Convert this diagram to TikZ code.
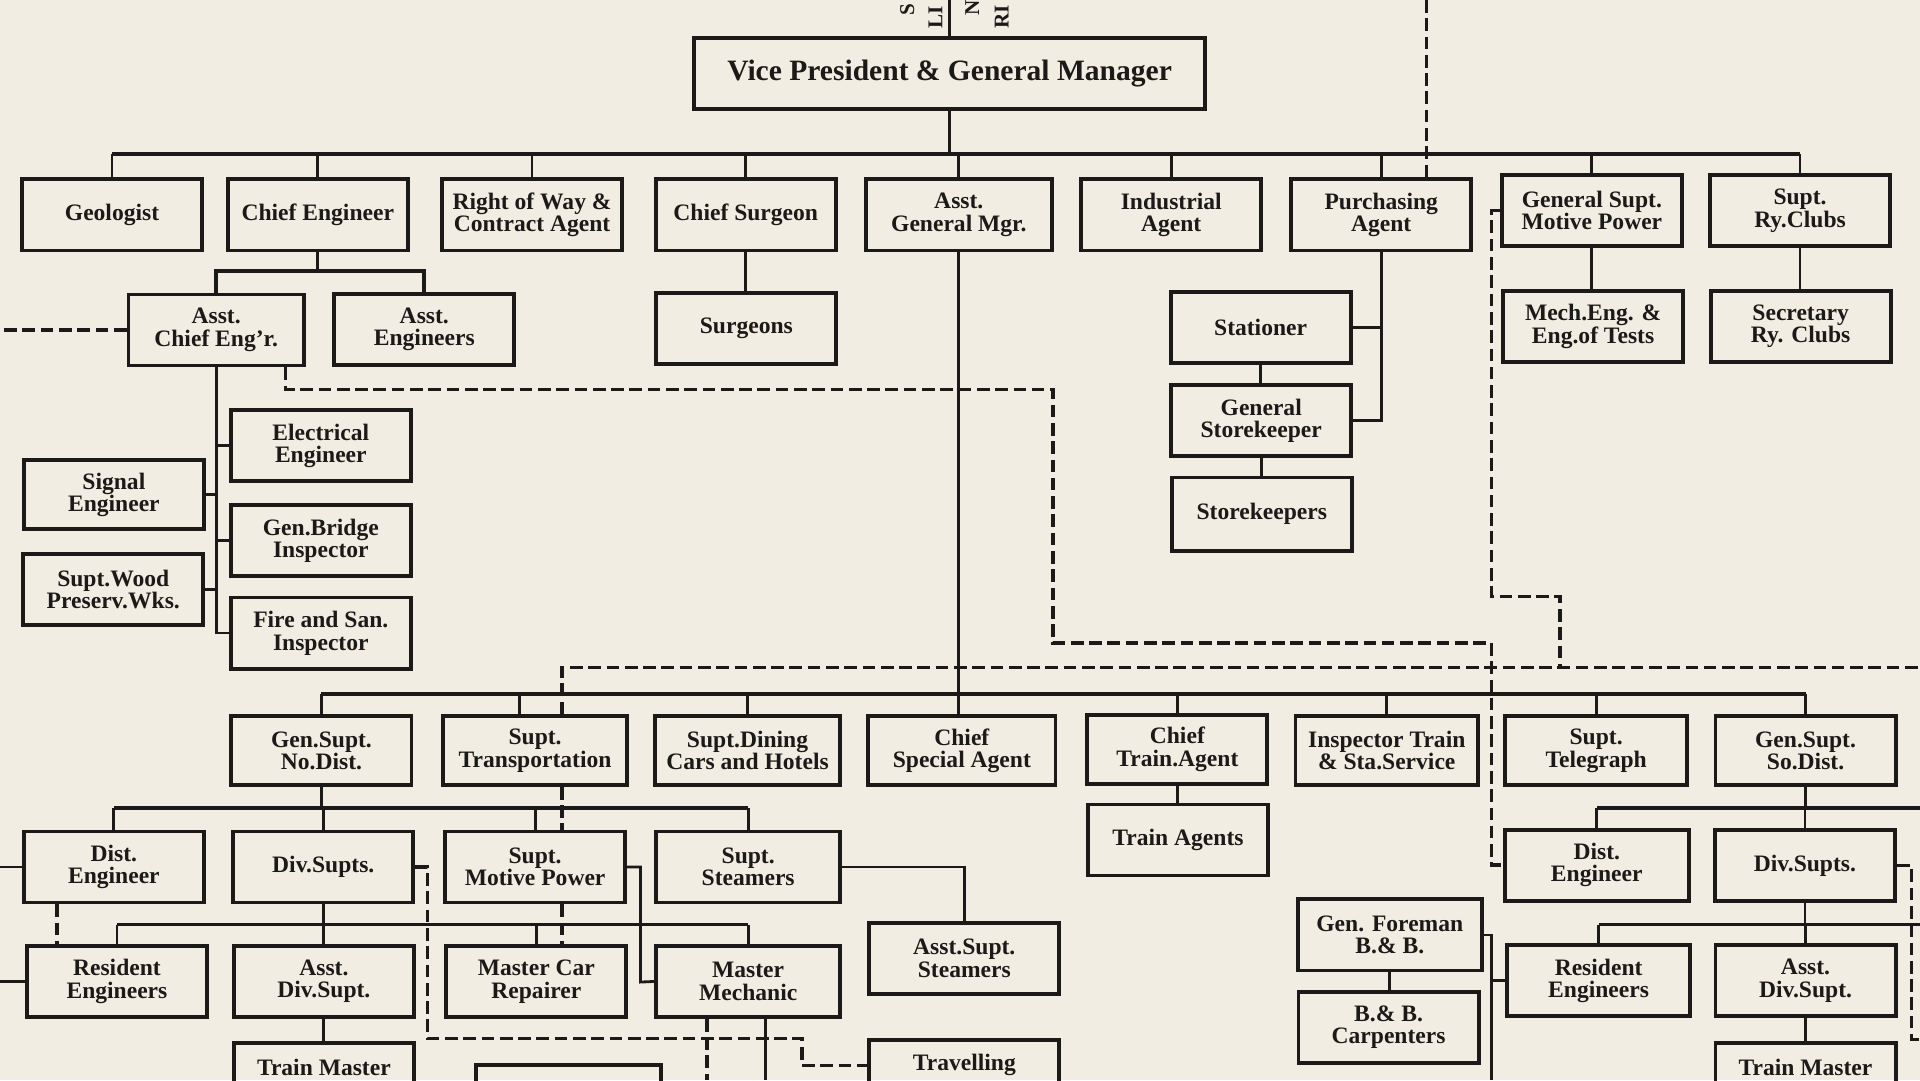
\documentclass[tikz,border=0pt]{standalone}
\usepackage{fontspec}
\setmainfont{Liberation Serif}
\definecolor{paper}{RGB}{241,237,226}
\definecolor{ink}{RGB}{28,26,24}

\begin{document}
\begin{tikzpicture}[x=0.012245cm, y=-0.012245cm, ink,
  post/.style={draw, line width=1.1pt, align=center, inner sep=1pt, minimum width=1.8cm, minimum height=0.71cm, font=\fontsize{6.7}{6.4}\selectfont\bfseries},
  low/.style={post, minimum height=0.686cm},
  cutpost/.style={post, anchor=north, minimum height=0.5cm},
  link/.style={line width=0.8pt},
  bus/.style={line width=1.1pt},
  dashlink/.style={line width=1pt, dash pattern=on 3.6pt off 1.6pt},
  frag/.style={font=\fontsize{6}{6}\selectfont\bfseries, inner sep=0pt, rotate=90, anchor=west}]
\clip (0,0) rectangle (1568,882);
\fill[paper] (0,0) rectangle (1568,882);
\coordinate (top) at (0,0);
\coordinate (left) at (0,0);
\coordinate (bottom) at (0,882);

\node[frag] (fragS) at (741,13) {S};
\node[frag] (fragLI) at (764,24) {LI};
\node[frag] (fragN) at (794,13) {N};
\node[frag] (fragRI) at (818,24) {RI};

\node[post, minimum width=5.106cm, font=\fontsize{8.4}{9}\selectfont\bfseries] (vp) at (775.5,60) {Vice President \& General Manager};

\node[post] (geol) at (91.5,175.5) {Geologist};
\node[post] (chiefeng) at (259.5,175.5) {Chief Engineer};
\node[post] (rightway) at (434.5,175.5) {Right of Way \&\\Contract Agent};
\node[post] (chiefsurg) at (609,175.5) {Chief Surgeon};
\node[post, minimum width=1.86cm] (asstgm) at (783,175.5) {Asst.\\General Mgr.};
\node[post] (indag) at (956.5,175.5) {Industrial\\Agent};
\node[post] (purch) at (1128,175.5) {Purchasing\\Agent};
\node[post] (gsmp) at (1300,172) {General Supt.\\Motive Power};
\node[post] (suptclubs) at (1470,172) {Supt.\\Ry.Clubs};

\node[post, minimum width=1.751cm] (acheng) at (176.5,269.5) {Asst.\\Chief Eng'r.};
\node[post] (assteng) at (346.5,269) {Asst.\\Engineers};
\node[post] (surgeons) at (609.5,268.5) {Surgeons};
\node[post] (stationer) at (1029.5,267.5) {Stationer};
\node[post] (genstore) at (1030,343.5) {General\\Storekeeper};
\node[post, minimum height=0.735cm] (storekeepers) at (1030.5,420) {Storekeepers};
\node[post] (mecheng) at (1301,266.5) {Mech.Eng. \&\\Eng.of Tests};
\node[post] (secretary) at (1470.5,266.5) {Secretary\\Ry. Clubs};

\node[post] (eleceng) at (262,364) {Electrical\\Engineer};
\node[low] (signal) at (93,404) {Signal\\Engineer};
\node[post] (bridge) at (262,441.5) {Gen.Bridge\\Inspector};
\node[post] (wood) at (92.5,481.5) {Supt.Wood\\Preserv.Wks.};
\node[post] (fire) at (262,517) {Fire and San.\\Inspector};

\node[low] (gsnd) at (262.5,613) {Gen.Supt.\\No.Dist.};
\node[low, minimum width=1.837cm] (supttrans) at (437,613) {Supt.\\Transportation};
\node[low, minimum width=1.85cm] (suptdining) at (610.5,613) {Supt.Dining\\Cars and Hotels};
\node[low, minimum width=1.873cm] (chiefspec) at (785.5,613) {Chief\\Special Agent};
\node[low] (chieftrain) at (961.5,612) {Chief\\Train.Agent};
\node[low, minimum width=1.824cm] (insptrain) at (1132.5,613) {Inspector Train\\\& Sta.Service};
\node[low, minimum width=1.824cm] (supttel) at (1303.5,613) {Supt.\\Telegraph};
\node[low] (gssd) at (1474.5,613) {Gen.Supt.\\So.Dist.};
\node[post] (trainagents) at (962,686) {Train Agents};

\node[post] (distengL) at (93,708) {Dist.\\Engineer};
\node[post] (divsuptsL) at (264,708) {Div.Supts.};
\node[post] (suptmp) at (437,708) {Supt.\\Motive Power};
\node[post, minimum width=1.837cm] (suptsteam) at (611,708) {Supt.\\Steamers};
\node[post, minimum width=1.837cm] (distengR) at (1304,706.5) {Dist.\\Engineer};
\node[post] (divsuptsR) at (1474,707) {Div.Supts.};

\node[post] (resengL) at (95.5,801.5) {Resident\\Engineers};
\node[post] (asstdivL) at (264.5,801.5) {Asst.\\Div.Supt.};
\node[post] (mcr) at (438,801.5) {Master Car\\Repairer};
\node[post, minimum width=1.837cm] (mmech) at (611,801.5) {Master\\Mechanic};
\node[post, minimum width=1.898cm] (asststeam) at (787.5,782.5) {Asst.Supt.\\Steamers};
\node[post, minimum width=1.837cm] (genforeman) at (1135,763.5) {Gen. Foreman\\B.\& B.};
\node[post] (carpenters) at (1134,839) {B.\& B.\\Carpenters};
\node[post, minimum width=1.824cm] (resengR) at (1305.5,801) {Resident\\Engineers};
\node[post] (asstdivR) at (1474.5,801) {Asst.\\Div.Supt.};

\node[cutpost] (trainmL) at (264.5,850) {Train Master};
\node[cutpost, minimum width=1.85cm] (blankbox) at (464.5,868) {};
\node[cutpost, minimum width=1.898cm] (travelling) at (787.5,848) {Travelling};
\node[cutpost] (trainmR) at (1474.5,850) {Train Master};

\coordinate (bus1) at (0,126);
\coordinate (bus2) at (0,221);
\coordinate (bus3) at (0,567);
\coordinate (bus4) at (0,660);
\coordinate (bus5) at (0,755);
\coordinate (redge4) at (1568,660);
\coordinate (redge5) at (1568,755);

\draw[link] (vp.north) -- (vp.north |- top);
\draw[link] (vp.south) -- (vp.south |- bus1);
\draw[bus] (geol.north |- bus1) -- (suptclubs.north |- bus1);
\foreach \n in {geol,chiefeng,rightway,chiefsurg,asstgm,indag,purch,gsmp,suptclubs}
  \draw[link] (\n.north) -- (\n.north |- bus1);

\draw[link] (chiefeng.south) -- (chiefeng.south |- bus2);
\draw[bus] (acheng.north) |- (assteng.north |- bus2) -- (assteng.north);
\draw[link] (acheng.south) -- (acheng.south |- fire.west) -- (fire.west);
\foreach \n in {eleceng,bridge}
  \draw[link] (\n.west) -- (\n.west -| acheng.south);
\foreach \n in {signal,wood}
  \draw[link] (\n.east) -- (\n.east -| acheng.south);
\draw[link] (chiefsurg.south) -- (chiefsurg.south |- surgeons.north);

\draw[link] (purch.south) |- (genstore.east);
\draw[link] (stationer.east) -- (stationer.east -| purch.south);
\draw[link] (stationer.south) -- (stationer.south |- genstore.north);
\draw[link] (genstore.south) -- (genstore.south |- storekeepers.north);
\draw[link] (gsmp.south) -- (gsmp.south |- mecheng.north);
\draw[link] (suptclubs.south) -- (suptclubs.south |- secretary.north);

\coordinate (dtop) at (1165,0);
\draw[dashlink] (dtop) -- (dtop |- purch.north);
\draw[dashlink] (acheng.west) -- (acheng.west -| left);
\coordinate (d2s) at ([xshift=-0.2cm]acheng.south east);
\coordinate (d2a) at (860,318);
\coordinate (d2b) at (1218,525);
\draw[dashlink] (d2s) |- (d2a) |- (d2b) |- (distengR.west);
\coordinate (d3a) at (1218,487);
\coordinate (d3b) at (1274,545);
\coordinate (dashrun) at (1568,545);
\draw[dashlink] (gsmp.west) -| (d3a) -| (d3b);
\coordinate (trd) at ([xshift=0.27cm]supttrans.north);
\draw[dashlink] (trd) |- (dashrun);
\coordinate (trd2) at ([xshift=0.27cm]supttrans.south);
\draw[dashlink] (trd2) -- (trd2 |- suptmp.north);
\coordinate (mpd) at ([xshift=0.27cm]suptmp.south);
\draw[dashlink] (mpd) -- (mpd |- mcr.north);

\draw[bus] (gsnd.north |- bus3) -- (gssd.north |- bus3);
\foreach \n in {gsnd,suptdining,chieftrain,insptrain,supttel,gssd}
  \draw[link] (\n.north) -- (\n.north |- bus3);
\coordinate (trs) at ([xshift=-0.16cm]supttrans.north);
\draw[link] (trs) -- (trs |- bus3);
\draw[link] (asstgm.south) -- (asstgm.south |- chiefspec.north);
\draw[link] (chieftrain.south) -- (chieftrain.south |- trainagents.north);

\draw[link] (gsnd.south) -- (gsnd.south |- bus4);
\draw[bus] (distengL.north |- bus4) -- (suptsteam.north |- bus4);
\foreach \n in {distengL,divsuptsL,suptmp,suptsteam}
  \draw[link] (\n.north) -- (\n.north |- bus4);
\draw[link] (gssd.south) -- (gssd.south |- redge4);
\draw[bus] (distengR.north |- redge4) -- (redge4);
\foreach \n in {distengR,divsuptsR}
  \draw[link] (\n.north) -- (\n.north |- redge4);

\draw[link] (divsuptsL.south) -- (divsuptsL.south |- bus5);
\draw[bus] (resengL.north |- bus5) -- (mmech.north |- bus5);
\foreach \n in {resengL,asstdivL,mcr,mmech}
  \draw[link] (\n.north) -- (\n.north |- bus5);
\draw[link] (divsuptsR.south) -- (divsuptsR.south |- redge5);
\draw[bus] (resengR.north |- redge5) -- (redge5);
\foreach \n in {resengR,asstdivR}
  \draw[link] (\n.north) -- (\n.north |- redge5);

\draw[link] (asstdivL.south) -- (asstdivL.south |- trainmL.north);
\draw[link] (asstdivR.south) -- (asstdivR.south |- trainmR.north);
\draw[link] (distengL.west) -- (distengL.west -| left);
\draw[link] (resengL.west) -- (resengL.west -| left);
\coordinate (ded) at ([xshift=-0.57cm]distengL.south);
\draw[dashlink] (ded) -- (ded |- resengL.north);
\draw[link] (suptsteam.east) -| (asststeam.north);
\coordinate (mpj) at (523,802);
\draw[link] (suptmp.east) -| (mpj) -- (mmech.west);
\coordinate (dv1) at (349,848);
\coordinate (dv2) at (655,866);
\draw[dashlink] (divsuptsL.east) -| (dv1) -| (dv2) |- (travelling.west);
\coordinate (mmd) at ([xshift=-0.41cm]mmech.south);
\draw[dashlink] (mmd) -- (mmd |- bottom);
\coordinate (mms) at ([xshift=0.17cm]mmech.south);
\draw[link] (mms) -- (mms |- bottom);

\coordinate (gfx) at (1218,882);
\draw[link] (genforeman.east) -| (gfx);
\draw[link] (resengR.west) -- (resengR.west -| gfx);
\draw[link] (genforeman.south) -- (genforeman.south |- carpenters.north);
\coordinate (dr) at (1561,849);
\coordinate (dr2) at (1600,849);
\draw[dashlink] (divsuptsR.east) -| (dr) -- (dr2);
\end{tikzpicture}
\end{document}
